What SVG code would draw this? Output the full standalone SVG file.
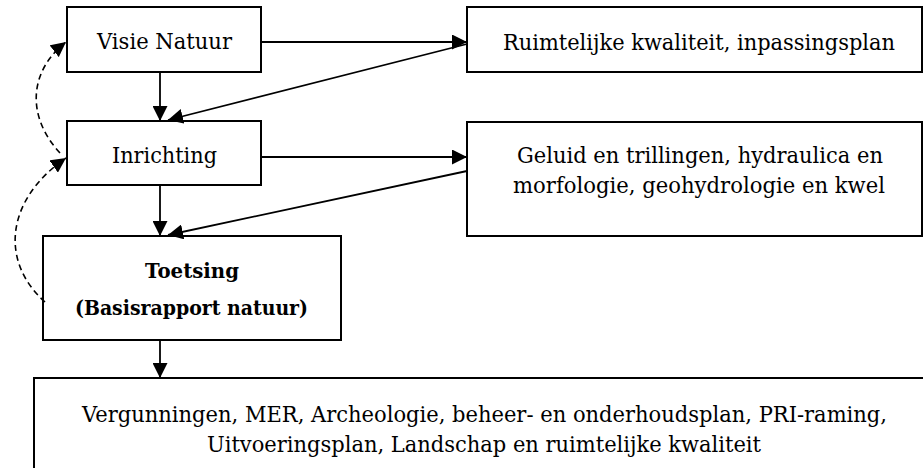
<svg xmlns="http://www.w3.org/2000/svg" width="923" height="468" viewBox="0 0 923 468">
<defs>
<style>
.box{fill:#fff;stroke:#000;stroke-width:2}
.t{font-family:"DejaVu Serif","Liberation Serif",serif;font-size:22.5px;fill:#000;text-anchor:middle}
.b{font-weight:bold;font-size:21px}
.c{fill:none;stroke:#000;stroke-width:1.8}
.d{fill:none;stroke:#000;stroke-width:1.6;stroke-dasharray:6 4}
</style>
<marker id="ah" markerUnits="userSpaceOnUse" markerWidth="16" markerHeight="15" refX="15" refY="7.5" orient="auto">
<path d="M0,0 L15,7.5 L0,15 z" fill="#000"/>
</marker>
</defs>
<rect width="923" height="468" fill="#fff"/>
<g id="visie">
<rect class="box" x="67" y="7" width="194" height="65"/>
<text class="t" x="164.5" y="49" textLength="135" lengthAdjust="spacingAndGlyphs">Visie Natuur</text>
</g>
<g id="inrichting">
<rect class="box" x="67" y="121" width="194" height="64"/>
<text class="t" x="164.5" y="163" textLength="105" lengthAdjust="spacingAndGlyphs">Inrichting</text>
</g>
<g id="toetsing">
<rect class="box" x="43" y="236" width="298" height="104"/>
<text class="t b" x="192" y="278" textLength="94" lengthAdjust="spacingAndGlyphs">Toetsing</text>
<text class="t b" x="191.5" y="315" textLength="233" lengthAdjust="spacingAndGlyphs">(Basisrapport natuur)</text>
</g>
<g id="ruimtelijk">
<rect class="box" x="467" y="7" width="455" height="65"/>
<text class="t" x="699" y="50" textLength="392" lengthAdjust="spacingAndGlyphs">Ruimtelijke kwaliteit, inpassingsplan</text>
</g>
<g id="geluid">
<rect class="box" x="467" y="122" width="455" height="114"/>
<text class="t" x="700" y="163" textLength="366" lengthAdjust="spacingAndGlyphs">Geluid en trillingen, hydraulica en</text>
<text class="t" x="699" y="193" textLength="372" lengthAdjust="spacingAndGlyphs">morfologie, geohydrologie en kwel</text>
</g>
<g id="vergunningen">
<rect class="box" x="34" y="378" width="900" height="100"/>
<text class="t" x="484.5" y="422" textLength="805" lengthAdjust="spacingAndGlyphs">Vergunningen, MER, Archeologie, beheer- en onderhoudsplan, PRI-raming,</text>
<text class="t" x="484" y="452" textLength="554" lengthAdjust="spacingAndGlyphs">Uitvoeringsplan, Landschap en ruimtelijke kwaliteit</text>
</g>
<g id="connectors">
<path class="c" d="M160 72 L160 121" marker-end="url(#ah)"/>
<path class="c" d="M160 185 L160 236" marker-end="url(#ah)"/>
<path class="c" d="M160 340 L160 378" marker-end="url(#ah)"/>
<path class="c" d="M261 42 L467 42" marker-end="url(#ah)"/>
<path class="c" d="M467 44 L168 120" marker-end="url(#ah)"/>
<path class="c" d="M261 157 L467 157" marker-end="url(#ah)"/>
<path class="c" d="M467 171 L168 235" marker-end="url(#ah)"/>
<path class="d" d="M60 153 C25 115 30 70 66 42" marker-end="url(#ah)"/>
<path class="d" d="M45 302 C0 262 5 200 66 158" marker-end="url(#ah)"/>
</g>
</svg>
